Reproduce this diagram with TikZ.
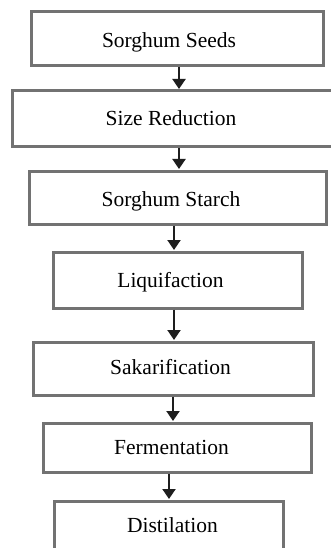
\documentclass[tikz,border=0pt]{standalone}
\usepackage{fontspec}
\setmainfont{Liberation Serif}
\usetikzlibrary{arrows.meta}
\definecolor{boxgray}{HTML}{727272}
\definecolor{arrgray}{HTML}{1E1E1E}
\begin{document}
\begin{tikzpicture}[x=1pt,y=-1pt,
  box/.style={draw=boxgray,line width=3pt,inner sep=0pt,fill=white,rectangle},
  lbl/.style={font=\fontsize{21.5}{26}\selectfont,inner sep=0pt,anchor=base},
  arr/.style={draw=arrgray,line width=2pt,shorten >=0.5pt,-{Triangle[width=13pt,length=10pt]}}]
\useasboundingbox (0,0) rectangle (331,548);
\fill[white] (0,0) rectangle (331,548);
% boxes
\node[box,minimum width=292pt,minimum height=54pt] (b1) at (177,38.6) {};
\node[box,minimum width=322pt,minimum height=56pt] (b2) at (173,119) {};
\node[box,minimum width=297pt,minimum height=53pt] (b3) at (177.5,197.5) {};
\node[box,minimum width=249pt,minimum height=56pt] (b4) at (177.5,280) {};
\node[box,minimum width=280pt,minimum height=53pt] (b5) at (173,368.5) {};
\node[box,minimum width=268pt,minimum height=49pt] (b6) at (177,447.5) {};
\node[box,minimum width=229pt,minimum height=50pt] (b7) at (168.5,526) {};
% labels
\node[lbl] (t1) at (169,48) {Sorghum Seeds};
\node[lbl] (t2) at (171,126) {Size Reduction};
\node[lbl] (t3) at (171,206) {Sorghum Starch};
\node[lbl] (t4) at (170.5,287) {Liquifaction};
\node[lbl] (t5) at (170.5,374) {Sakarification};
\node[lbl] (t6) at (171.5,454) {Fermentation};
\node[lbl] (t7) at (172.5,532) {Distilation};
% arrow columns
\coordinate (x1) at (179,0);
\coordinate (x2) at (179,0);
\coordinate (x3) at (174,0);
\coordinate (x4) at (174,0);
\coordinate (x5) at (173,0);
\coordinate (x6) at (169,0);
\draw[arr] (b1.south -| x1) -- (b2.north -| x1);
\draw[arr] (b2.south -| x2) -- (b3.north -| x2);
\draw[arr] (b3.south -| x3) -- (b4.north -| x3);
\draw[arr] (b4.south -| x4) -- (b5.north -| x4);
\draw[arr] (b5.south -| x5) -- (b6.north -| x5);
\draw[arr] (b6.south -| x6) -- (b7.north -| x6);
\end{tikzpicture}
\end{document}
